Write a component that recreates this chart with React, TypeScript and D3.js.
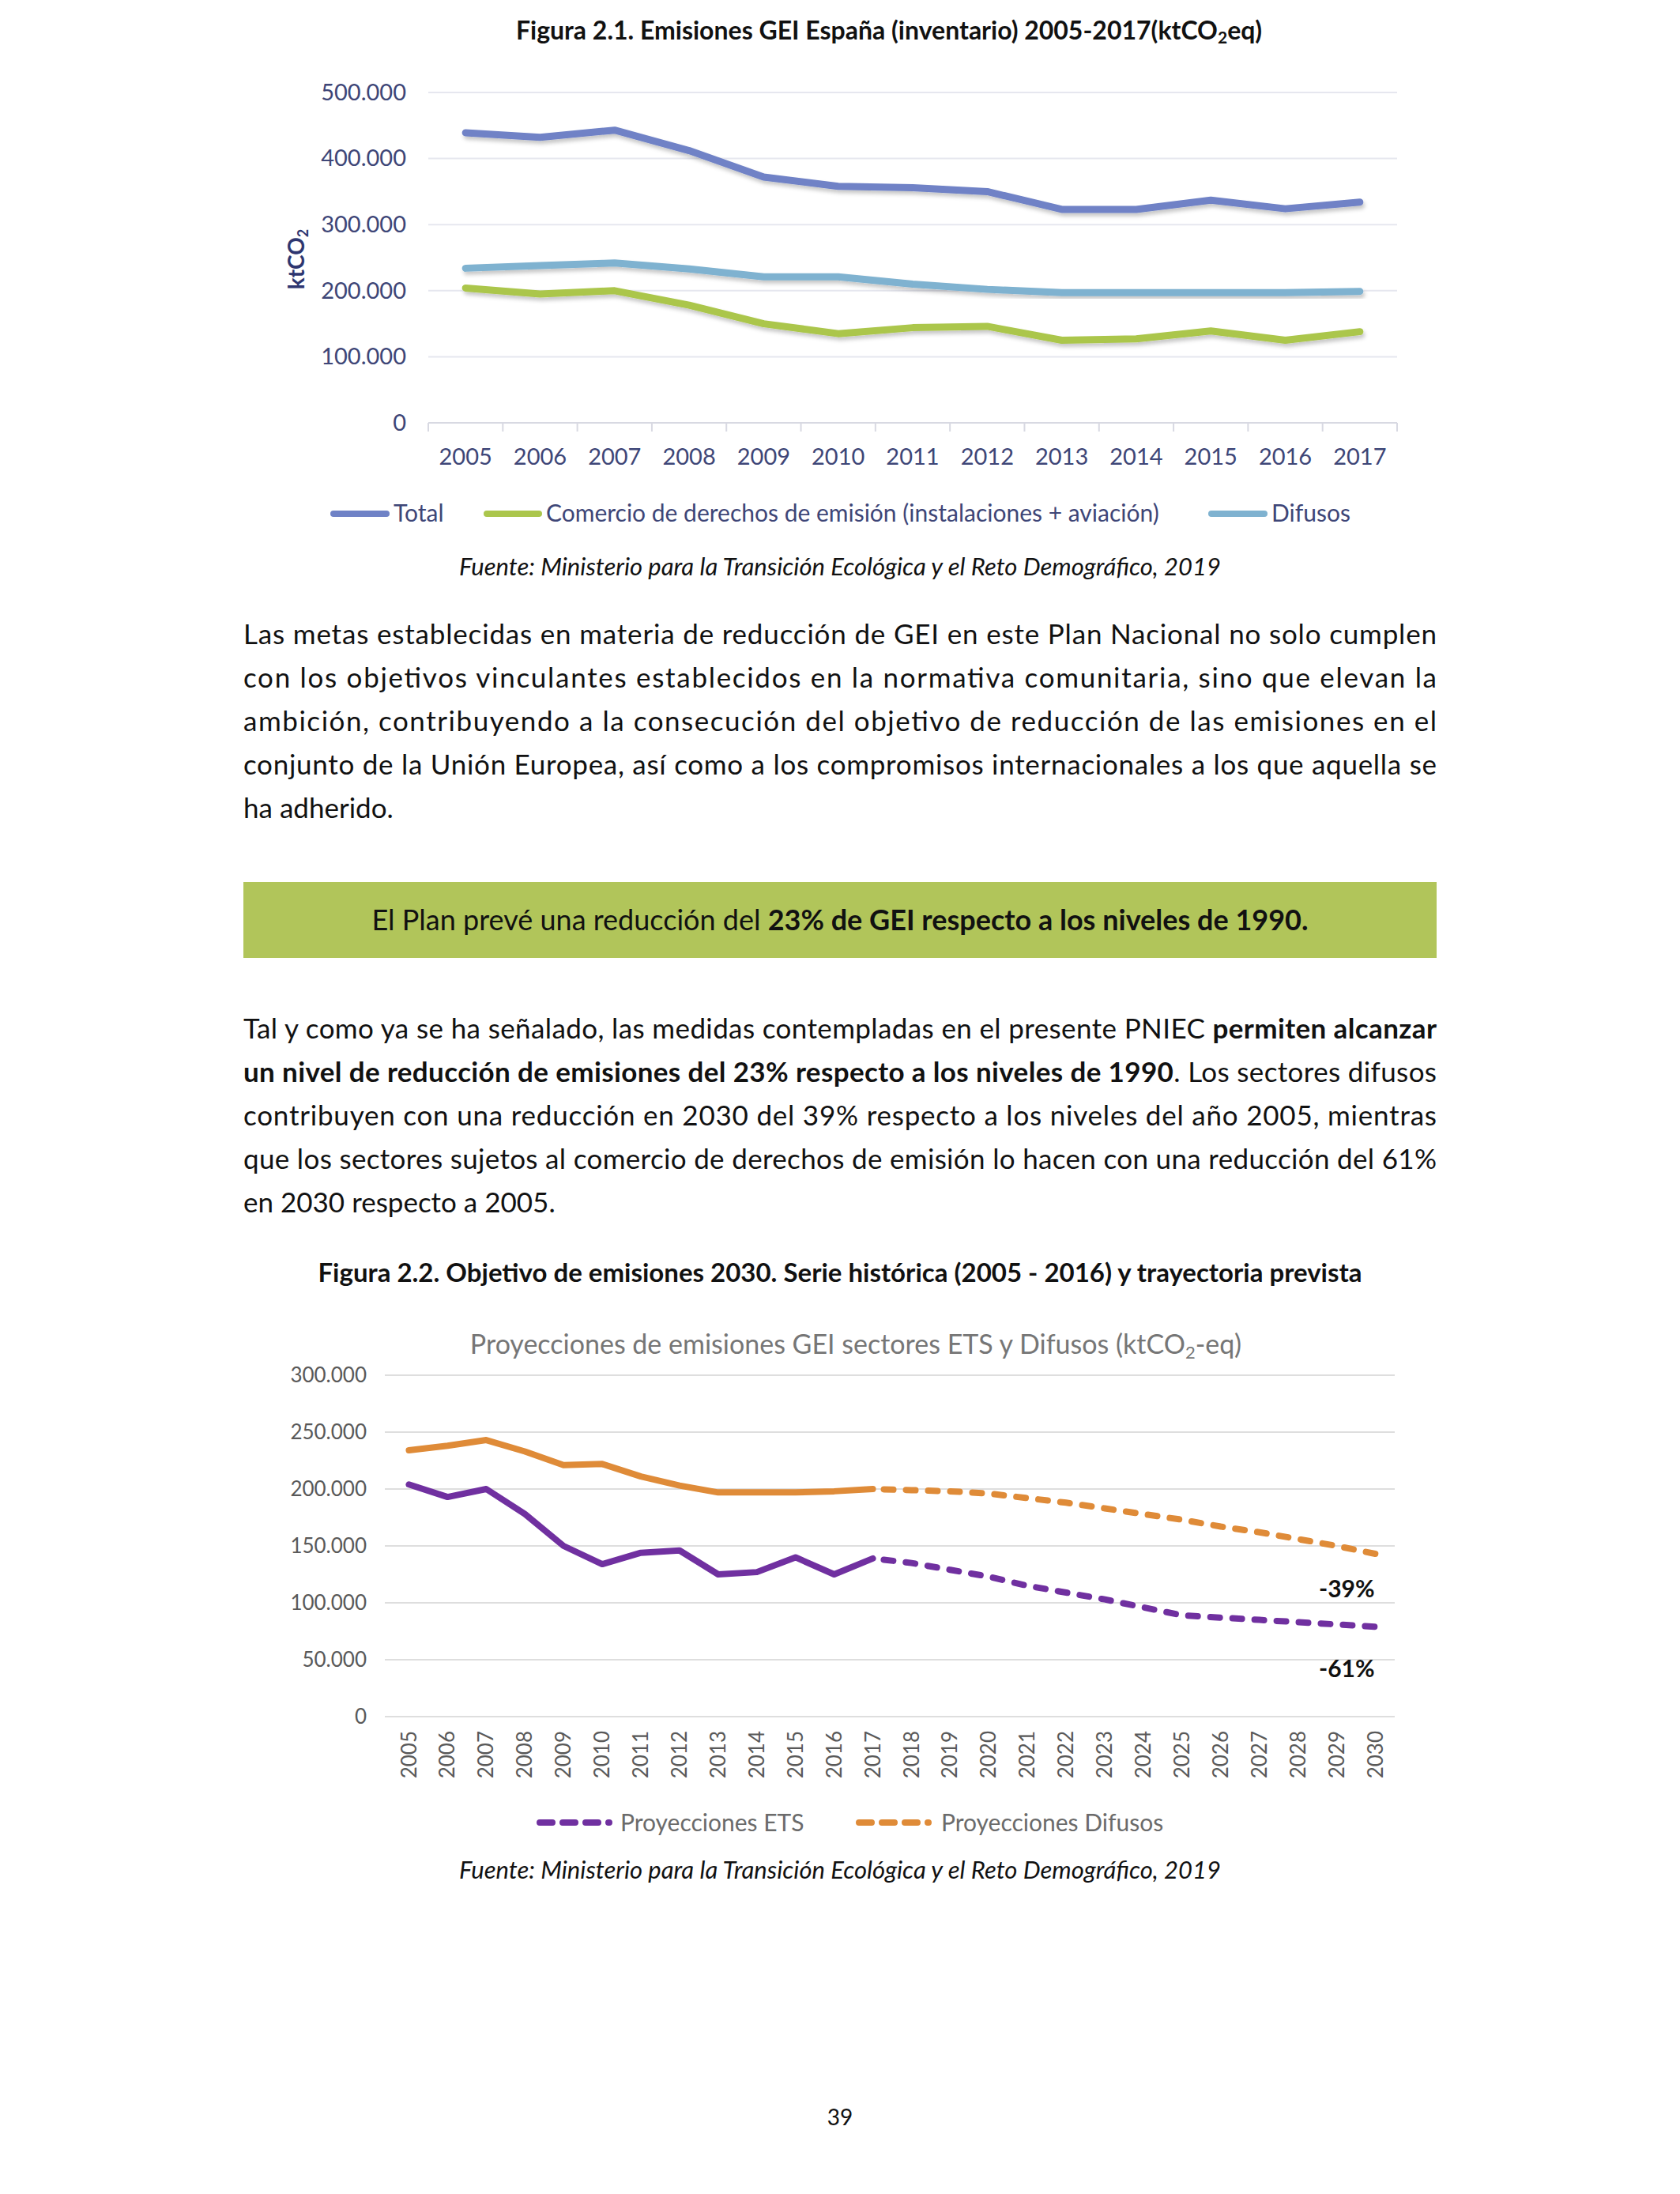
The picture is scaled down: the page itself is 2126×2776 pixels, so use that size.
import React, { useEffect, useRef } from 'react';
import * as d3 from 'd3';

const W = 2126;
const H = 2776;
const FONT = 'Lato, "Noto Sans", sans-serif';

// Figura 2.1 data (ktCO2eq)
const years1 = ['2005', '2006', '2007', '2008', '2009', '2010', '2011', '2012', '2013', '2014', '2015', '2016', '2017'];
const totalValues = [439000, 432000, 443000, 412000, 372000, 358000, 356000, 350000, 323000, 323000, 337000, 324000, 334000];
const comercioValues = [204000, 195000, 200000, 178000, 150000, 135000, 144000, 146000, 125000, 127000, 139000, 125000, 138000];
const difusosValues = [234000, 238000, 242000, 233000, 221000, 221000, 210000, 202000, 197000, 197000, 197000, 197000, 199000];
const yTicks1 = [0, 100000, 200000, 300000, 400000, 500000];
const seriesNames1 = ['Total', 'Comercio de derechos de emisión (instalaciones + aviación)', 'Difusos'];

// Figura 2.2 data (ktCO2-eq)
const years2 = ['2005', '2006', '2007', '2008', '2009', '2010', '2011', '2012', '2013', '2014', '2015', '2016', '2017',
  '2018', '2019', '2020', '2021', '2022', '2023', '2024', '2025', '2026', '2027', '2028', '2029', '2030'];
const etsProjection = [204000, 193000, 200000, 178000, 150000, 134000, 144000, 146000, 125000, 127000, 140000, 125000, 139000,
  135000, 129000, 123000, 115000, 109000, 103000, 96000, 89000, 87000, 85000, 83000, 81000, 79000];
const difusosProjection = [234000, 238000, 243000, 233000, 221000, 222000, 211000, 203000, 197000, 197000, 197000, 198000, 200000,
  199000, 198000, 196000, 192000, 188000, 183000, 178000, 173000, 167000, 162000, 156000, 150000, 143000];
const lastHistoric = '2017';
const yTicks2 = [0, 50000, 100000, 150000, 200000, 250000, 300000];
const seriesNames2 = ['Proyecciones ETS', 'Proyecciones Difusos'];
const reductionLabels = ['-39%', '-61%'];

const sourceText = 'Fuente: Ministerio para la Transición Ecológica y el Reto Demográfico, 2019';

type Seg = { t: string; b?: boolean };
const paragraph1: Seg[][] = [
  [{ t: 'Las metas establecidas en materia de reducción de GEI en este Plan Nacional no solo cumplen' }],
  [{ t: 'con los objetivos vinculantes establecidos en la normativa comunitaria, sino que elevan la' }],
  [{ t: 'ambición, contribuyendo a la consecución del objetivo de reducción de las emisiones en el' }],
  [{ t: 'conjunto de la Unión Europea, así como a los compromisos internacionales a los que aquella se' }],
  [{ t: 'ha adherido.' }],
];
const boxText: Seg[] = [
  { t: 'El Plan prevé una reducción del ' },
  { t: '23% de GEI respecto a los niveles de 1990.', b: true },
];
const paragraph2: Seg[][] = [
  [{ t: 'Tal y como ya se ha señalado, las medidas contempladas en el presente PNIEC ' }, { t: 'permiten alcanzar', b: true }],
  [{ t: 'un nivel de reducción de emisiones del 23% respecto a los niveles de 1990', b: true }, { t: '. Los sectores difusos' }],
  [{ t: 'contribuyen con una reducción en 2030 del 39% respecto a los niveles del año 2005, mientras' }],
  [{ t: 'que los sectores sujetos al comercio de derechos de emisión lo hacen con una reducción del 61%' }],
  [{ t: 'en 2030 respecto a 2005.' }],
];

const colors1 = ['#6f82c6', '#abc64c', '#7fb2d0'];
const colors2 = ['#7030a0', '#df8b38'];

const esLocale = d3.formatLocale({ decimal: ',', thousands: '.', grouping: [3], currency: ['', ' €'] });
const fmt = esLocale.format(',.0f');

export default function App() {
  const svgRef = useRef<SVGSVGElement>(null);

  useEffect(() => {
    if (!svgRef.current) return;
    const svg = d3.select(svgRef.current);
    svg.selectAll('*').remove();

    svg.append('rect').attr('width', W).attr('height', H).attr('fill', '#fff');

    const defs = svg.append('defs');
    const f = defs.append('filter').attr('id', 'shadow').attr('x', '-5%').attr('y', '-20%').attr('width', '110%').attr('height', '140%');
    f.append('feDropShadow').attr('dx', 2).attr('dy', 4).attr('stdDeviation', 2.5)
      .attr('flood-color', '#000').attr('flood-opacity', 0.22);

    const drawLines = (lines: Seg[][], x: number, y0: number, lh: number, width: number) => {
      lines.forEach((segs, i) => {
        const t = svg.append('text')
          .attr('x', x).attr('y', y0 + i * lh)
          .attr('font-family', FONT).attr('font-size', 35).attr('fill', '#111');
        if (i < lines.length - 1) t.attr('textLength', width).attr('lengthAdjust', 'spacing');
        segs.forEach(s => t.append('tspan').attr('font-weight', s.b ? 700 : 400).text(s.t));
      });
    };

    // ---------- Figura 2.1 ----------
    const cap1 = svg.append('text').attr('x', 1125).attr('y', 50).attr('text-anchor', 'middle')
      .attr('font-family', FONT).attr('font-weight', 700).attr('font-size', 32).attr('fill', '#111');
    cap1.append('tspan').text('Figura 2.1. Emisiones GEI España (inventario) 2005-2017(ktCO');
    cap1.append('tspan').attr('font-size', 21).attr('dy', 5).text('2');
    cap1.append('tspan').attr('dy', -5).text('eq)');

    const x1 = d3.scaleBand().domain(years1).range([542, 1768]);
    const y1 = d3.scaleLinear().domain([0, 500000]).range([535, 117]);
    const g1 = svg.append('g');

    g1.selectAll('.grid1').data(yTicks1).enter().append('line')
      .attr('x1', 542).attr('x2', 1768)
      .attr('y1', d => y1(d)).attr('y2', d => y1(d))
      .attr('stroke', d => d === 0 ? '#d8d9e2' : '#e6e7ef').attr('stroke-width', 2);

    const boundaries = [...years1.map(d => x1(d) as number), 1768];
    g1.selectAll('.tick1').data(boundaries).enter().append('line')
      .attr('x1', d => d).attr('x2', d => d).attr('y1', 535).attr('y2', 546)
      .attr('stroke', '#d8d9e2').attr('stroke-width', 2);

    const yAxis1 = g1.append('g').attr('transform', 'translate(514,0)')
      .call(d3.axisLeft(y1).tickValues(yTicks1).tickFormat(d => fmt(d as number)).tickSize(0).tickPadding(0));
    yAxis1.select('.domain').remove();
    yAxis1.selectAll('text').attr('font-family', FONT).attr('font-size', 29).attr('fill', '#3e4677');

    const xAxis1 = g1.append('g').attr('transform', 'translate(0,535)')
      .call(d3.axisBottom(x1).tickSize(0).tickPadding(32));
    xAxis1.select('.domain').remove();
    xAxis1.selectAll('text').attr('font-family', FONT).attr('font-size', 29).attr('fill', '#3e4677');

    const ylab = g1.append('text').attr('transform', 'translate(385,328) rotate(-90)').attr('text-anchor', 'middle')
      .attr('font-family', FONT).attr('font-weight', 700).attr('font-size', 28).attr('fill', '#2e3670');
    ylab.append('tspan').text('ktCO');
    ylab.append('tspan').attr('font-size', 18).attr('dy', 5).text('2');

    const line1 = d3.line<number>()
      .x((_, i) => (x1(years1[i]) as number) + x1.bandwidth() / 2)
      .y(d => y1(d));
    [totalValues, comercioValues, difusosValues].forEach((vals, i) => {
      g1.append('path').datum(vals).attr('d', line1).attr('fill', 'none')
        .attr('stroke', colors1[i]).attr('stroke-width', 9)
        .attr('stroke-linejoin', 'round').attr('stroke-linecap', 'round')
        .attr('filter', 'url(#shadow)');
    });

    const legend1X = [[418, 498], [612, 691], [1529, 1609]];
    seriesNames1.forEach((name, i) => {
      g1.append('line').attr('x1', legend1X[i][0] + 4).attr('x2', legend1X[i][1] - 9)
        .attr('y1', 650).attr('y2', 650).attr('stroke', colors1[i]).attr('stroke-width', 8)
        .attr('stroke-linecap', 'round');
      g1.append('text').attr('x', legend1X[i][1]).attr('y', 660)
        .attr('font-family', FONT).attr('font-size', 30).attr('fill', '#3e4677').text(name);
    });

    svg.append('text').attr('x', 1063).attr('y', 728).attr('text-anchor', 'middle')
      .attr('font-family', FONT).attr('font-style', 'italic').attr('font-size', 31).attr('fill', '#111')
      .text(sourceText);

    // ---------- Texto ----------
    drawLines(paragraph1, 308, 815, 55, 1510);

    svg.append('rect').attr('x', 308).attr('y', 1116).attr('width', 1510).attr('height', 96).attr('fill', '#b1c55a');
    const bt = svg.append('text').attr('x', 1063).attr('y', 1177).attr('text-anchor', 'middle')
      .attr('font-family', FONT).attr('font-size', 36).attr('fill', '#111');
    boxText.forEach(s => bt.append('tspan').attr('font-weight', s.b ? 700 : 400).text(s.t));

    drawLines(paragraph2, 308, 1314, 55, 1510);

    // ---------- Figura 2.2 ----------
    svg.append('text').attr('x', 1063).attr('y', 1622).attr('text-anchor', 'middle')
      .attr('font-family', FONT).attr('font-weight', 700).attr('font-size', 33).attr('fill', '#111')
      .text('Figura 2.2. Objetivo de emisiones 2030. Serie histórica (2005 - 2016) y trayectoria prevista');

    const t2 = svg.append('text').attr('x', 1083).attr('y', 1713).attr('text-anchor', 'middle')
      .attr('font-family', FONT).attr('font-size', 34).attr('fill', '#767676');
    t2.append('tspan').text('Proyecciones de emisiones GEI sectores ETS y Difusos (ktCO');
    t2.append('tspan').attr('font-size', 22).attr('dy', 6).text('2');
    t2.append('tspan').attr('dy', -6).text('-eq)');

    const x2 = d3.scaleBand().domain(years2).range([493, 1765]);
    const y2 = d3.scaleLinear().domain([0, 300000]).range([2172, 1740]);
    const g2 = svg.append('g');

    g2.selectAll('.grid2').data(yTicks2).enter().append('line')
      .attr('x1', 487).attr('x2', 1765)
      .attr('y1', d => y2(d)).attr('y2', d => y2(d))
      .attr('stroke', '#dedede').attr('stroke-width', 2);

    const yAxis2 = g2.append('g').attr('transform', 'translate(464,0)')
      .call(d3.axisLeft(y2).tickValues(yTicks2).tickFormat(d => fmt(d as number)).tickSize(0).tickPadding(0));
    yAxis2.select('.domain').remove();
    yAxis2.selectAll('text').attr('font-family', FONT).attr('font-size', 26).attr('fill', '#595959');

    const xAxis2 = g2.append('g').attr('transform', 'translate(0,2172)')
      .call(d3.axisBottom(x2).tickSize(0));
    xAxis2.select('.domain').remove();
    xAxis2.selectAll('text')
      .attr('transform', 'rotate(-90)').attr('x', -18).attr('y', 0).attr('dy', '0.35em')
      .attr('text-anchor', 'end')
      .attr('font-family', FONT).attr('font-size', 26).attr('fill', '#595959');

    const splitIdx = years2.indexOf(lastHistoric);
    const line2 = (from: number, to: number) => d3.line<number>()
      .defined((_, i) => i >= from && i <= to)
      .x((_, i) => (x2(years2[i]) as number) + x2.bandwidth() / 2)
      .y(d => y2(d));
    [etsProjection, difusosProjection].forEach((vals, i) => {
      g2.append('path').datum(vals).attr('d', line2(0, splitIdx)).attr('fill', 'none')
        .attr('stroke', colors2[i]).attr('stroke-width', 8)
        .attr('stroke-linejoin', 'round').attr('stroke-linecap', 'round');
      g2.append('path').datum(vals).attr('d', line2(splitIdx, years2.length - 1)).attr('fill', 'none')
        .attr('stroke', colors2[i]).attr('stroke-width', 8)
        .attr('stroke-dasharray', '12,16').attr('stroke-dashoffset', -14)
        .attr('stroke-linecap', 'round');
    });

    const lastX = (x2(years2[years2.length - 1]) as number) + x2.bandwidth() / 2;
    [2021, 2122].forEach((yy, i) => {
      g2.append('text').attr('x', lastX - 1).attr('y', yy).attr('text-anchor', 'end')
        .attr('font-family', FONT).attr('font-weight', 700).attr('font-size', 30).attr('fill', '#111')
        .text(reductionLabels[i]);
    });

    const legend2X = [[679, 785], [1083, 1191]];
    seriesNames2.forEach((name, i) => {
      g2.append('line').attr('x1', legend2X[i][0] + 4).attr('x2', legend2X[i][0] + 92)
        .attr('y1', 2306).attr('y2', 2306).attr('stroke', colors2[i]).attr('stroke-width', 8)
        .attr('stroke-dasharray', '16,13').attr('stroke-linecap', 'round');
      g2.append('text').attr('x', legend2X[i][1]).attr('y', 2317)
        .attr('font-family', FONT).attr('font-size', 30).attr('fill', '#6b6b6b').text(name);
    });

    svg.append('text').attr('x', 1063).attr('y', 2377).attr('text-anchor', 'middle')
      .attr('font-family', FONT).attr('font-style', 'italic').attr('font-size', 31).attr('fill', '#111')
      .text(sourceText);

    svg.append('text').attr('x', 1063).attr('y', 2689).attr('text-anchor', 'middle')
      .attr('font-family', FONT).attr('font-size', 28).attr('fill', '#111').text('39');
  }, []);

  return (
    <div style={{ position: 'absolute', left: 0, top: 0 }}>
      <svg ref={svgRef} width={W} height={H} style={{ display: 'block' }} />
    </div>
  );
}
